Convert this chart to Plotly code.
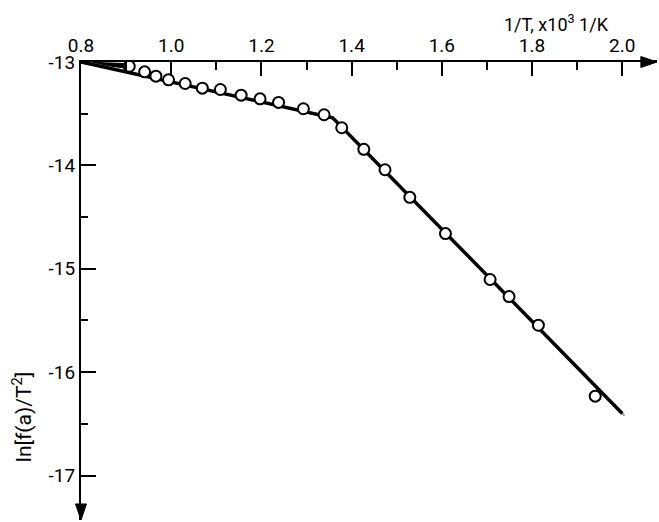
import plotly.graph_objects as go

# measured points: 1/T (x10^3 1/K) and ln[f(a)/T^2]
inv_T = [0.907, 0.941, 0.966, 0.994, 1.031, 1.069, 1.109, 1.155, 1.197, 1.238,
         1.293, 1.339, 1.378, 1.427, 1.474, 1.529, 1.608, 1.707, 1.749, 1.814, 1.940]
ln_f = [-13.041, -13.095, -13.137, -13.172, -13.208, -13.253, -13.266, -13.321,
        -13.356, -13.391, -13.452, -13.510, -13.636, -13.845, -14.042, -14.309,
        -14.660, -15.104, -15.269, -15.546, -16.232]

# fitted two-segment line
fit_x = [0.80, 1.358, 2.00]
fit_y = [-13.00, -13.539, -16.40]
# secondary (thin gray) fit
fit2_x = [0.80, 1.36, 2.005]
fit2_y = [-12.99, -13.55, -16.42]
# start wedge
wedge_x = [0.80, 0.90, 0.90, 0.80]
wedge_y = [-13.00, -13.015, -13.06, -13.00]

x_ticks = [0.8, 1.0, 1.2, 1.4, 1.6, 1.8, 2.0]
x_labels = ["0.8", "1.0", "1.2", "1.4", "1.6", "1.8", "2.0"]
y_ticks = [-13, -14, -15, -16, -17]
y_labels = ["-13", "-14", "-15", "-16", "-17"]

X_RANGE = [0.8, 2.077]
Y_RANGE = [-17.43, -13.0]
FONT = "Roboto"

fig = go.Figure()
fig.add_trace(go.Scatter(x=wedge_x, y=wedge_y, mode="lines", fill="toself",
                         fillcolor="black", line=dict(color="black", width=1),
                         hoverinfo="skip", showlegend=False))
fig.add_trace(go.Scatter(x=fit2_x, y=fit2_y, mode="lines",
                         line=dict(color="#999999", width=2), showlegend=False))
fig.add_trace(go.Scatter(x=fit_x, y=fit_y, mode="lines",
                         line=dict(color="black", width=3.5), showlegend=False))
fig.add_trace(go.Scatter(x=inv_T, y=ln_f, mode="markers",
                         marker=dict(symbol="circle", size=11, color="white",
                                     line=dict(color="black", width=2)),
                         showlegend=False))

fig.update_layout(
    width=659, height=522,
    margin=dict(l=81, r=2, t=62, b=2),
    plot_bgcolor="white", paper_bgcolor="white",
    font=dict(family=FONT, size=18, color="black"),
    xaxis=dict(side="top", range=X_RANGE, showgrid=False, zeroline=False,
               showline=True, linecolor="black", linewidth=2,
               tickmode="array", tickvals=x_ticks, ticktext=x_labels,
               ticks="inside", ticklen=14, tickwidth=2, tickcolor="black",
               minor=dict(dtick=0.1, tick0=0.8, ticks="inside", ticklen=8,
                          tickwidth=2, tickcolor="black", showgrid=False),
               tickfont=dict(size=19, family=FONT)),
    yaxis=dict(range=Y_RANGE, showgrid=False, zeroline=False,
               showline=True, linecolor="black", linewidth=2,
               tickmode="array", tickvals=y_ticks, ticktext=y_labels,
               ticks="inside", ticklen=15, tickwidth=2, tickcolor="black",
               minor=dict(dtick=0.5, tick0=-13, ticks="inside", ticklen=7,
                          tickwidth=2, tickcolor="black", showgrid=False),
               tickfont=dict(size=19, family=FONT)),
)

# axis arrowheads (filled triangles in paper coordinates)
fig.add_shape(type="path", xref="paper", yref="paper",
              path="M 0.972,1.012 L 1.0,1.0 L 0.972,0.988 Z",
              fillcolor="black", line=dict(color="black", width=1))
fig.add_shape(type="path", xref="paper", yref="paper",
              path="M -0.0095,0.035 L 0.0,0.0 L 0.0095,0.035 Z",
              fillcolor="black", line=dict(color="black", width=1))

# axis titles
fig.add_annotation(x=0.826, y=1.085, xref="paper", yref="paper", showarrow=False,
                   text="1/T, x10<sup>3</sup> 1/K", font=dict(size=18, family=FONT),
                   xanchor="center", yanchor="middle")
fig.add_annotation(x=-0.102, y=0.225, xref="paper", yref="paper", showarrow=False,
                   text="ln[f(a)/T<sup>2</sup>]", textangle=-90,
                   font=dict(size=21, family=FONT),
                   xanchor="center", yanchor="middle")

fig.write_html("out.html")
